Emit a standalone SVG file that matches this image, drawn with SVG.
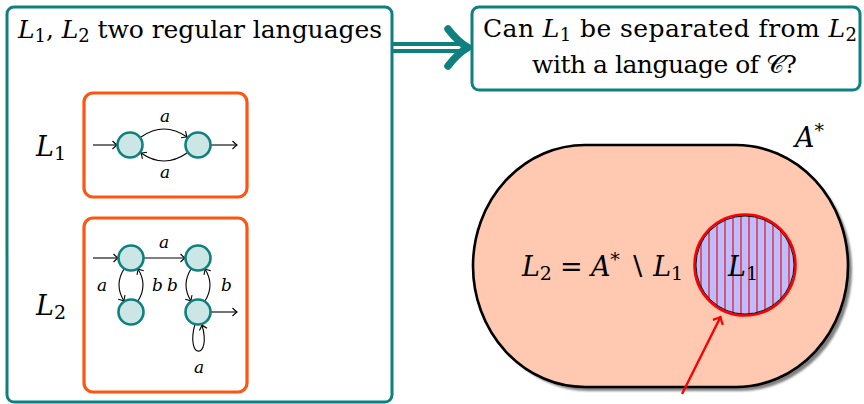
<svg xmlns="http://www.w3.org/2000/svg" width="864" height="404" viewBox="0 0 864 404">
<style>
text{font-family:'DejaVu Serif','Liberation Serif',serif;fill:#000}
.i{font-style:italic}
.box{fill:#fff;stroke:#0f8080;stroke-width:3}
.obox{fill:#fff;stroke:#ff5511;stroke-width:3.2}
.st{fill:#cce6e6;stroke:#0f8080;stroke-width:2.6}
.ed{fill:none;stroke:#000;stroke-width:1.1;marker-end:url(#ah)}
.lab{font-size:17px;font-style:italic}
</style>
<defs>
<marker id="ah" markerUnits="userSpaceOnUse" markerWidth="12" markerHeight="12" refX="0" refY="0" viewBox="-6 -6 12 12" orient="auto">
<path d="M-4.5,-4 Q-1.5,-1 0,0 Q-1.5,1 -4.5,4" fill="none" stroke="#000" stroke-width="1.1"/>
</marker>
<marker id="rah" markerUnits="userSpaceOnUse" markerWidth="16" markerHeight="16" refX="0" refY="0" viewBox="-8 -8 16 16" orient="auto">
<path d="M-6,-5.5 Q-2,-1.5 0,0 Q-2,1.5 -6,5.5" fill="none" stroke="#ff0000" stroke-width="2.2"/>
</marker>
<pattern id="hatch" patternUnits="userSpaceOnUse" x="1" y="0" width="8" height="8">
<rect width="8" height="8" fill="#bcbcff"/>
<line x1="4" y1="0" x2="4" y2="8" stroke="#ee1111" stroke-width="1.2"/>
</pattern>
<filter id="blur" x="-10%" y="-10%" width="120%" height="120%"><feGaussianBlur stdDeviation="1.2"/></filter>
</defs>

<g id="connectors">
<path d="M392,47.5 H460" stroke="#0f8080" stroke-width="11" fill="none"/>
<path d="M392,47.5 H462" stroke="#fff" stroke-width="3" fill="none"/>
<path d="M448,29 Q458,42 468,47.5 Q458,53 448,66" stroke="#0f8080" stroke-width="7.5" fill="none" stroke-linecap="round" stroke-linejoin="round"/>
</g>

<g id="hyp">
<rect class="box" x="7" y="7" width="385" height="395" rx="7"/>
<text x="18" y="38" font-size="25" textLength="364" lengthAdjust="spacing"><tspan class="i">L</tspan><tspan font-size="18" dy="4">1</tspan><tspan dy="-4">, </tspan><tspan class="i">L</tspan><tspan font-size="18" dy="4">2</tspan><tspan dy="-4"> two regular languages</tspan></text>
<text x="36" y="156" font-size="27"><tspan class="i">L</tspan><tspan font-size="19" dy="4">1</tspan></text>
<text x="36" y="315" font-size="27"><tspan class="i">L</tspan><tspan font-size="19" dy="4">2</tspan></text>
</g>

<g id="auto1">
<rect class="obox" x="84" y="93" width="163" height="104" rx="9"/>
<path class="ed" d="M93,145 H117"/>
<path class="ed" d="M141,137 Q164,121 187,137"/>
<path class="ed" d="M187,153 Q164,169 141,153"/>
<path class="ed" d="M211,145 H237"/>
<circle class="st" cx="130" cy="145" r="12.5"/>
<circle class="st" cx="198" cy="145" r="12.5"/>
<text class="lab" x="160" y="122">a</text>
<text class="lab" x="160" y="178">a</text>
</g>

<g id="auto2">
<rect class="obox" x="84" y="218" width="163" height="174" rx="9"/>
<path class="ed" d="M93,258 H118"/>
<path class="ed" d="M143.5,258 H185"/>
<path class="ed" d="M124,269 Q114,285 124,301"/>
<path class="ed" d="M138,301 Q148,285 138,269"/>
<path class="ed" d="M191,269 Q181,285 191,301"/>
<path class="ed" d="M205,301 Q215,285 205,269"/>
<path class="ed" d="M210.5,312 H237"/>
<path class="ed" d="M195,324 C185,360 212,360 202,325"/>
<circle class="st" cx="131" cy="258" r="12.5"/>
<circle class="st" cx="131" cy="312" r="12.5"/>
<circle class="st" cx="198" cy="258" r="12.5"/>
<circle class="st" cx="198" cy="312" r="12.5"/>
<text class="lab" x="159" y="248">a</text>
<text class="lab" x="97" y="291">a</text>
<text class="lab" x="152" y="291">b</text>
<text class="lab" x="167" y="291">b</text>
<text class="lab" x="221" y="291">b</text>
<text class="lab" x="194" y="373">a</text>
</g>

<g id="question">
<rect class="box" x="472" y="7" width="388" height="83" rx="7"/>
<text x="483" y="37" font-size="25" textLength="374" lengthAdjust="spacing">Can <tspan class="i">L</tspan><tspan font-size="18" dy="4">1</tspan><tspan dy="-4"> be separated from </tspan><tspan class="i">L</tspan><tspan font-size="18" dy="4">2</tspan></text>
<text x="532" y="73" font-size="25" textLength="265" lengthAdjust="spacing">with a language of 𝒞?</text>
</g>

<g id="universe">
<rect x="477" y="149" width="375" height="242" rx="112" ry="121" fill="#808080" filter="url(#blur)"/>
<rect x="473" y="145" width="375" height="242" rx="112" ry="121" fill="#ffc9b1" stroke="#000" stroke-width="2.6"/>
<text x="795" y="147" font-size="27"><tspan class="i">A</tspan><tspan font-size="19" dy="-10">*</tspan></text>
<text x="522" y="276" font-size="27" textLength="161" lengthAdjust="spacing"><tspan class="i">L</tspan><tspan font-size="19" dy="4">2</tspan><tspan dy="-4"> = </tspan><tspan class="i">A</tspan><tspan font-size="19" dy="-10">*</tspan><tspan dy="10"> ∖ </tspan><tspan class="i">L</tspan><tspan font-size="19" dy="4">1</tspan></text>
</g>

<g id="L1set">
<circle cx="745" cy="265" r="50.5" fill="url(#hatch)" stroke="#ff0000" stroke-width="2.6"/>
<circle cx="745" cy="265" r="49" fill="none" stroke="#000" stroke-width="0.9"/>
<text x="728" y="276" font-size="27"><tspan class="i">L</tspan><tspan font-size="19" dy="4">1</tspan></text>
</g>

<g id="pointer">
<path d="M682,394 L720.5,317" stroke="#ff0000" stroke-width="2.4" fill="none" marker-end="url(#rah)"/>
</g>
</svg>
